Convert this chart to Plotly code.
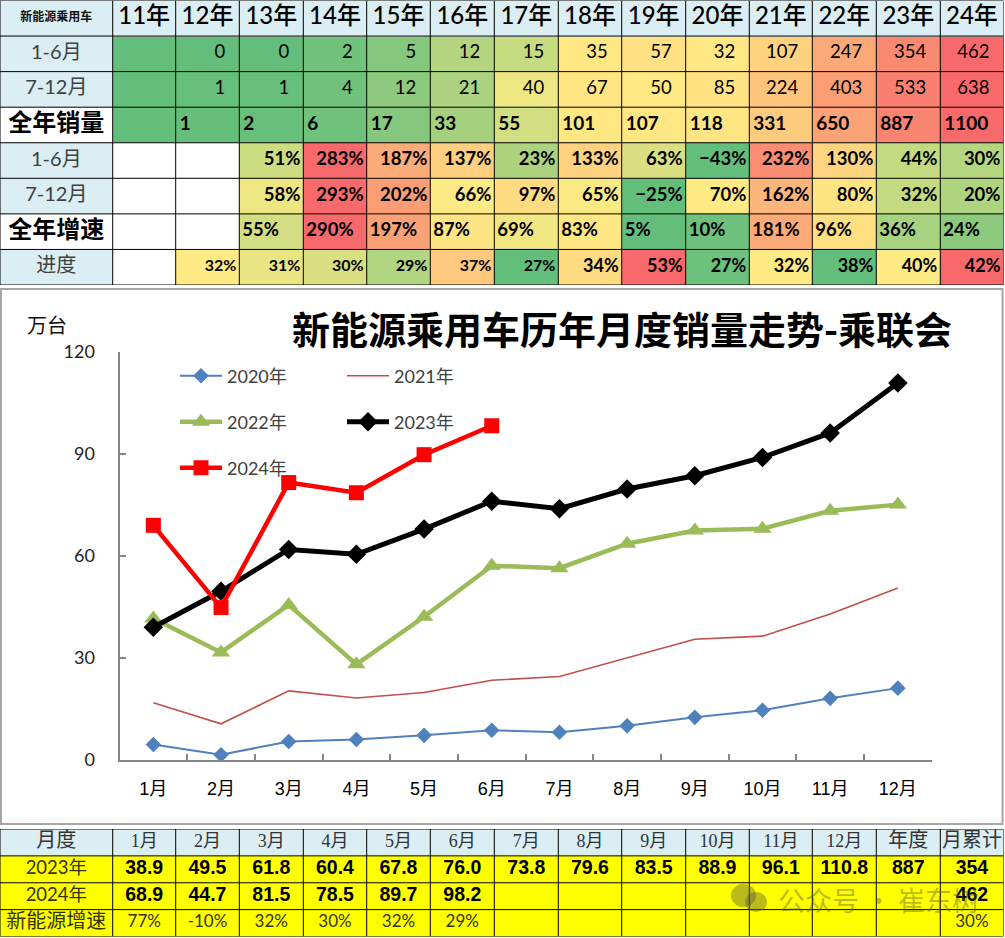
import math
import plotly.graph_objects as go

# ---------- data ----------
YEAR_HEADERS = ["11年","12年","13年","14年","15年","16年","17年","18年","19年","20年","21年","22年","23年","24年"]
H1_SALES = [None,0,0,2,5,12,15,35,57,32,107,247,354,462]
H2_SALES = [None,1,1,4,12,21,40,67,50,85,224,403,533,638]
FULL_SALES = [None,1,2,6,17,33,55,101,107,118,331,650,887,1100]
H1_GROWTH = [None,None,51,283,187,137,23,133,63,-43,232,130,44,30]
H2_GROWTH = [None,None,58,293,202,66,97,65,-25,70,162,80,32,20]
FULL_GROWTH = [None,None,55,290,197,87,69,83,5,10,181,96,36,24]
PROGRESS = [None,32,31,30,29,37,27,34,53,27,32,38,40,42]
# colour-scale position of the progress row
PROGRESS_LEVEL = [None,0.5,0.43,0.38,0.25,0.63,0.0,0.56,1.0,0.03,0.5,0.0,0.5,1.0]
ROW_LABELS = ["1-6月","7-12月","全年销量","1-6月","7-12月","全年增速","进度"]
CORNER = "新能源乘用车"

MONTHS = ["1月","2月","3月","4月","5月","6月","7月","8月","9月","10月","11月","12月"]
S2020 = [4.4,1.4,5.3,5.9,7.1,8.6,8.0,9.9,12.4,14.5,18.0,21.0]
S2021 = [16.7,10.5,20.2,18.1,19.7,23.3,24.4,30.0,35.4,36.3,42.8,50.5]
S2022 = [41.5,31.5,45.5,28.0,42.0,57.0,56.3,63.5,67.4,67.9,73.2,75.0]
S2023 = [38.9,49.5,61.8,60.4,67.8,76.0,73.8,79.6,83.5,88.9,96.1,110.8]
S2024 = [68.9,44.7,81.5,78.5,89.7,98.2]
YOY = ["77%","-10%","32%","30%","32%","29%"]
TITLE = "新能源乘用车历年月度销量走势-乘联会"
BOTTOM_HEAD = ["月度"] + MONTHS + ["年度","月累计"]
ROW_2023 = "2023年"
ROW_2024 = "2024年"
ROW_YOY = "新能源增速"
TOTAL_2023 = "887"
YTD_2023 = "354"
YTD_2024 = "462"
YTD_YOY = "30%"

# ---------- layout constants ----------
W, H = 1005, 938
EDGES = [0,112.7,175.7,239.3,303.3,366.7,430.3,494.3,558.3,621.7,685.7,749.3,812.3,876.3,940.3,1003.5]
TOP_Y = (0.5, 285.0)
BOT_Y = (829.0, 936.5)
PLOT_X = (119.5, 931.7)
PLOT_Y = (351.7, 759.5)
CJK = "Noto Sans CJK SC"
CAL = "Lato, " + CJK
ARIAL = "Liberation Sans, " + CJK
SERIF = "Liberation Serif, " + CJK

def xdom(a, b): return [a / W, b / W]
def ydom(a, b): return [1 - b / H, 1 - a / H]
def px(v): return v / W
def py(v): return 1 - v / H

def levels(row):
    vals = sorted(v for v in row if v is not None)
    n = len(vals)
    med = vals[n // 2] if n % 2 else (vals[n // 2 - 1] + vals[n // 2]) / 2
    lo, hi = vals[0], vals[-1]
    out = []
    for v in row:
        if v is None:
            out.append(None)
        elif v <= med:
            out.append(0.5 * (v - lo) / (med - lo))
        else:
            out.append(0.5 + 0.5 * (v - med) / (hi - med))
    return out

def with_zero(row):
    return [0 if v is None else v for v in row]

body = [
    [None] * 14,
    levels(with_zero(H1_SALES)),
    levels(with_zero(H2_SALES)),
    levels(with_zero(FULL_SALES)),
    [None, None] + levels(H1_GROWTH[2:]),
    [None, None] + levels(H2_GROWTH[2:]),
    [None, None] + levels(FULL_GROWTH[2:]),
    PROGRESS_LEVEL,
]
z_body = [[None] + r for r in body]
BLUE_ROWS = {0, 1, 2, 4, 5, 7}
z_blue = [[1 if (r == 0 or (c == 0 and r in BLUE_ROWS)) else None for c in range(15)] for r in range(8)]
row_edges_top = list(range(9))
row_edges_bot = list(range(5))
z_bot_blue = [[1] * 15] + [[None] * 15 for _ in range(3)]
z_bot_yellow = [[None] * 15] + [[1] * 15 for _ in range(3)]

fig = go.Figure()

def solid(c): return [[0, c], [1, c]]
def cells(z, yaxis, scale, zmin=0, zmax=1, yedges=row_edges_top):
    fig.add_trace(go.Heatmap(z=z, x=EDGES, y=yedges, xaxis="x2", yaxis=yaxis, colorscale=scale,
                             zmin=zmin, zmax=zmax, showscale=False, hoverinfo="skip", showlegend=False))

cells(z_body, "y2", [[0, "#63BE7B"], [0.5, "#FFEB84"], [1, "#F8696B"]])
cells(z_blue, "y2", solid("#DAEEF3"))
cells(z_bot_blue, "y3", solid("#DAEEF3"), yedges=row_edges_bot)
cells(z_bot_yellow, "y3", solid("#FFFF00"), yedges=row_edges_bot)

# ---------- text inside the tables ----------
def cen(c): return (EDGES[c] + EDGES[c + 1]) / 2

def put(items, yaxis, position):
    if not items:
        return
    fig.add_trace(go.Scatter(
        x=[i[0] for i in items], y=[i[1] for i in items], text=[i[2] for i in items],
        mode="text", textposition=position, xaxis="x2", yaxis=yaxis, showlegend=False, hoverinfo="skip",
        cliponaxis=False,
        textfont=dict(family=[i[3] for i in items], size=[i[4] for i in items],
                      color=[i[5] for i in items], weight=[i[6] for i in items])))

center, left, right = [], [], []
center.append((cen(0), 0.5, CORNER, CJK, 12, "#111111", 700))
for i, t in enumerate(YEAR_HEADERS):
    center.append((cen(i + 1), 0.5, t, CAL, 24, "#000000", 500))
for r, t in enumerate(ROW_LABELS):
    big = t in ("全年销量", "全年增速")
    center.append((cen(0), r + 1.5, t, CJK if big else CAL, 24 if big else 20,
                   "#000000" if big else "#404040", 700 if big else 400))

def fmt(v, pct=False):
    return "" if v is None else (f"{v}%" if pct else str(v))

for r, row in ((1, H1_SALES), (2, H2_SALES)):
    for i, v in enumerate(row):
        if v is not None:
            right.append((EDGES[i + 2] - 14, r + 0.5, fmt(v), CAL, 18.5, "#000000", 400))
for i, v in enumerate(FULL_SALES):
    if v is not None:
        left.append((EDGES[i + 1] + 4, 3.5, fmt(v), CAL, 19, "#000000", 700))
for r, row in ((4, H1_GROWTH), (5, H2_GROWTH)):
    for i, v in enumerate(row):
        if v is not None:
            t = fmt(v, True).replace("-", "−")
            right.append((EDGES[i + 2] - 3, r + 0.5, t, CAL, 18.5, "#000000", 700))
for i, v in enumerate(FULL_GROWTH):
    if v is not None:
        left.append((EDGES[i + 1] + 3, 6.5, fmt(v, True), CAL, 18.5, "#000000", 700))
for i, v in enumerate(PROGRESS):
    if v is not None:
        right.append((EDGES[i + 2] - 3, 7.5, fmt(v, True), CAL, 16 if i < 7 else 18, "#000000", 700))
put(center, "y2", "middle center")
put(left, "y2", "middle right")
put(right, "y2", "middle left")

bot = []
for i, t in enumerate(BOTTOM_HEAD):
    cjk = i == 0 or i >= 13
    bot.append((cen(i), 0.5, t, CJK if cjk else SERIF, 20 if cjk else 18, "#333333", 400))
bot.append((cen(0), 1.5, ROW_2023, CAL, 18.5, "#333300", 400))
bot.append((cen(0), 2.5, ROW_2024, CAL, 18.5, "#333300", 400))
bot.append((cen(0), 3.5, ROW_YOY, CJK, 20, "#333300", 400))
for i, v in enumerate(S2023):
    bot.append((cen(i + 1), 1.5, f"{v:.1f}", ARIAL, 19.5, "#000000", 700))
for i, v in enumerate(S2024):
    bot.append((cen(i + 1), 2.5, f"{v:.1f}", ARIAL, 19.5, "#000000", 700))
for i, t in enumerate(YOY):
    bot.append((cen(i + 1), 3.5, t, CAL, 17, "#333300", 400))
bot.append((cen(13), 1.5, TOTAL_2023, ARIAL, 19.5, "#000000", 700))
bot.append((cen(14), 1.5, YTD_2023, ARIAL, 19.5, "#000000", 700))
bot.append((cen(14), 2.5, YTD_2024, ARIAL, 19.5, "#000000", 700))
bot.append((cen(14), 3.5, YTD_YOY, CAL, 17, "#333300", 400))
put(bot, "y3", "middle center")

# ---------- the line chart ----------
def line(name, y, color, width, legend, marker=None):
    fig.add_trace(go.Scatter(
        x=MONTHS[:len(y)], y=y, name=name, legend=legend, xaxis="x", yaxis="y",
        mode="lines+markers" if marker else "lines", cliponaxis=False,
        line=dict(color=color, width=width),
        marker=marker or dict(size=1)))

line("2020年", S2020, "#4F81BD", 2, "legend", dict(symbol="diamond", size=12, color="#4F81BD"))
line("2021年", S2021, "#C0504D", 1.6, "legend2")
line("2022年", S2022, "#9BBB59", 4.5, "legend3", dict(symbol="triangle-up", size=16, color="#9BBB59"))
line("2023年", S2023, "#000000", 5, "legend4", dict(symbol="diamond", size=15, color="#000000"))
line("2024年", S2024, "#FF0000", 4.5, "legend5", dict(symbol="square", size=15, color="#FF0000"))

def legend_at(x, y):
    return dict(x=px(x), y=py(y), xanchor="left", yanchor="middle", bgcolor="rgba(0,0,0,0)",
                borderwidth=0, itemwidth=42, font=dict(family=CAL, size=18, color="#404040"))

AX = "#868686"
shapes = []
for e in EDGES:
    shapes.append(dict(type="line", xref="x2", yref="y2", x0=e, x1=e, y0=0, y1=8, line=dict(color="#000", width=1)))
    shapes.append(dict(type="line", xref="x2", yref="y3", x0=e, x1=e, y0=0, y1=4, line=dict(color="#000", width=1)))
for r in row_edges_top:
    shapes.append(dict(type="line", xref="x2", yref="y2", x0=EDGES[0], x1=EDGES[-1], y0=r, y1=r, line=dict(color="#000", width=1)))
for r in row_edges_bot:
    shapes.append(dict(type="line", xref="x2", yref="y3", x0=EDGES[0], x1=EDGES[-1], y0=r, y1=r, line=dict(color="#000", width=1)))
# chart frame
shapes.append(dict(type="rect", xref="paper", yref="paper", x0=px(1), x1=px(1002.5), y0=py(289), y1=py(824),
                   line=dict(color="#A6A6A6", width=2), layer="below"))
# watermark icon
for (a, b, c, d) in ((731, 884, 756, 907), (745, 892, 767, 912)):
    shapes.append(dict(type="circle", xref="paper", yref="paper", x0=px(a), x1=px(c), y0=py(b), y1=py(d),
                       fillcolor="rgba(90,90,60,0.42)", line=dict(width=0), layer="above"))

annotations = [
    dict(text=TITLE, xref="paper", yref="paper", x=px(622), y=py(328), xanchor="center", yanchor="middle",
         showarrow=False, font=dict(family=CJK, size=38, color="#000", weight=700)),
    dict(text="万台", xref="paper", yref="paper", x=px(47), y=py(324), xanchor="center", yanchor="middle",
         showarrow=False, font=dict(family=CJK, size=20, color="#111")),
    dict(text="公众号 · 崔东树", xref="paper", yref="paper", x=px(776), y=py(899), xanchor="left", yanchor="middle",
         showarrow=False, font=dict(family=CJK, size=27, color="rgba(90,90,60,0.42)")),
]

hidden = dict(showgrid=False, zeroline=False, showticklabels=False, ticks="", showline=False, fixedrange=True)

fig.update_layout(
    width=W, height=H, margin=dict(l=0, r=0, t=0, b=0, autoexpand=False), autosize=False,
    paper_bgcolor="#FFFFFF", plot_bgcolor="rgba(0,0,0,0)", hovermode=False,
    xaxis=dict(domain=xdom(*PLOT_X), type="category", categoryorder="array", categoryarray=MONTHS,
               range=[-0.5, 11.5], tickson="boundaries", ticks="inside", ticklen=6, tickcolor=AX, tickwidth=1.5,
               showline=True, linecolor=AX, linewidth=2, showgrid=False, zeroline=False,
               ticklabelstandoff=12, tickfont=dict(family=ARIAL, size=18, color="#000")),
    yaxis=dict(domain=ydom(*PLOT_Y), range=[0, 120], tickvals=[0, 30, 60, 90, 120], ticks="inside", ticklen=6,
               tickcolor=AX, tickwidth=1.5, showline=True, linecolor=AX, linewidth=2, showgrid=False,
               zeroline=False, ticklabelstandoff=19, tickfont=dict(family=CAL, size=18, color="#222")),
    xaxis2=dict(domain=[0, EDGES[-1] / W], range=[EDGES[0], EDGES[-1]], anchor="y2", **hidden),
    yaxis2=dict(domain=ydom(*TOP_Y), range=[8, 0], anchor="x2", **hidden),
    yaxis3=dict(domain=ydom(*BOT_Y), range=[4, 0], anchor="x2", **hidden),
    legend=legend_at(175, 376), legend2=legend_at(342, 376),
    legend3=legend_at(175, 422), legend4=legend_at(342, 422), legend5=legend_at(175, 468),
    shapes=shapes, annotations=annotations,
)

fig.write_html("out.html", config={"displayModeBar": False},
               post_script="document.body.style.margin='0';document.body.style.overflow='hidden';")
